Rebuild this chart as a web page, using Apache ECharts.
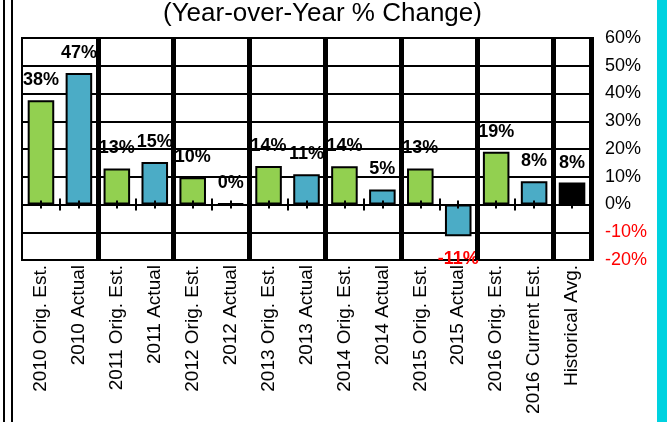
<!DOCTYPE html>
<html>
<head>
<meta charset="utf-8">
<script src="https://cdn.jsdelivr.net/npm/echarts@6/dist/echarts.min.js"></script>
<style>
  html, body { margin: 0; padding: 0; background: #fff; }
  #chart { width: 667px; height: 422px; }
</style>
</head>
<body>
<div id="chart"></div>
<script>
const categories = [
  '2010 Orig. Est.', '2010 Actual',
  '2011 Orig. Est.', '2011 Actual',
  '2012 Orig. Est.', '2012 Actual',
  '2013 Orig. Est.', '2013 Actual',
  '2014 Orig. Est.', '2014 Actual',
  '2015 Orig. Est.', '2015 Actual',
  '2016 Orig. Est.', '2016 Current Est.',
  'Historical Avg.'
]
const changes = [37.6, 47.4, 13.0, 15.3, 9.8, 0.4, 13.9, 10.9, 13.8, 5.4, 13.0, -11.4, 19.0, 8.4, 7.9]
const kinds = ['est', 'act', 'est', 'act', 'est', 'act', 'est', 'act', 'est', 'act', 'est', 'act', 'est', 'act', 'avg']
const yTicks = [-20, -10, 0, 10, 20, 30, 40, 50, 60]

const kindColor = { est: '#92d050', act: '#4bacc6', avg: '#000000' }
const font = 'Arial, "Liberation Sans", sans-serif'

const chart = echarts.init(document.getElementById('chart'))

const barData = changes.map((v, i) => ({
  value: v,
  itemStyle: { color: kindColor[kinds[i]] },
  label: v < 0 ? { position: 'bottom', color: '#ff0000', distance: 14 } : undefined
}))

// thin axes sitting on the 0% line, only for the little tick marks
const tickAxis = (alignWithLabel, inside, length) => ({
  type: 'category',
  data: categories,
  position: 'bottom',
  z: 10,
  axisLine: { show: true, onZero: true, onZeroAxisIndex: 0, lineStyle: { color: '#000', width: 2 } },
  axisTick: { show: true, interval: 0, alignWithLabel, inside, length, lineStyle: { color: '#000', width: 2 } },
  axisLabel: { show: false, interval: 0 },
  splitLine: { show: false }
})

const option = {
  animation: false,
  backgroundColor: '#fff',
  title: {
    text: '(Year-over-Year % Change)',
    left: 163,
    top: 1,
    padding: 0,
    textStyle: { fontFamily: font, fontSize: 26, fontWeight: 'normal', color: '#000' }
  },
  grid: {
    left: 22,
    right: 76,
    top: 38,
    bottom: 162,
    show: true,
    borderColor: '#000',
    borderWidth: 2,
    outerBoundsMode: 'none',
    containLabel: false
  },
  graphic: [
    { type: 'rect', left: 3, top: 0, shape: { width: 2, height: 422 }, style: { fill: '#000' } },
    { type: 'rect', left: 11, top: 0, shape: { width: 2, height: 422 }, style: { fill: '#000' } },
    { type: 'rect', left: 657, top: 0, shape: { width: 10, height: 422 }, style: { fill: '#00d2e0' } }
  ],
  xAxis: [
    {
      type: 'category',
      data: categories,
      position: 'bottom',
      z: 10,
      axisLine: { show: false, onZero: false },
      axisTick: { show: false },
      axisLabel: {
        rotate: 90,
        margin: 5,
        interval: 0,
        fontFamily: font,
        fontSize: 19,
        color: '#000'
      },
      splitLine: {
        show: true,
        interval: (i) => i > 0 && i < categories.length && i % 2 === 0,
        lineStyle: { color: '#000', width: 5 }
      }
    },
    tickAxis(false, false, 6),
    tickAxis(false, true, 6),
    tickAxis(true, false, 4),
    tickAxis(true, true, 4)
  ],
  yAxis: {
    type: 'value',
    position: 'right',
    min: yTicks[0],
    max: yTicks[yTicks.length - 1],
    interval: 10,
    axisLine: { show: true, lineStyle: { color: '#000', width: 2 } },
    axisTick: { show: true, length: 3, lineStyle: { color: '#000', width: 2 } },
    axisLabel: {
      margin: 14,
      fontFamily: font,
      fontSize: 18,
      color: '#000',
      formatter: (v) => v < 0 ? `{neg|${v}%}` : `${v}%`,
      rich: { neg: { color: '#ff0000', fontFamily: font, fontSize: 18 } }
    },
    splitLine: { show: true, lineStyle: { color: '#000', width: 2 } }
  },
  series: [
    {
      type: 'bar',
      xAxisIndex: 0,
      yAxisIndex: 0,
      data: barData,
      barWidth: '70%',
      itemStyle: { borderColor: '#000', borderWidth: 2 },
      label: {
        show: true,
        position: 'top',
        distance: 11,
        fontFamily: font,
        fontSize: 18,
        fontWeight: 'bold',
        color: '#000',
        formatter: (p) => `${Math.round(p.value)}%`
      }
    }
  ]
}

chart.setOption(option)
window.addEventListener('resize', () => chart.resize())
</script>
</body>
</html>
